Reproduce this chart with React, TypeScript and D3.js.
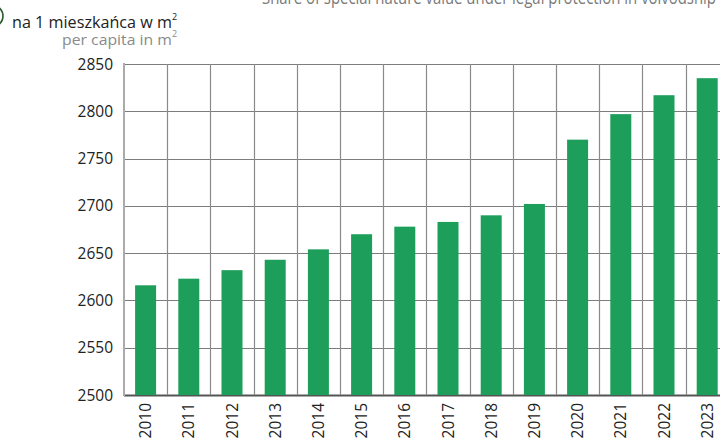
import { useEffect, useRef } from 'react';
import * as d3 from 'd3';

const years = ['2010', '2011', '2012', '2013', '2014', '2015', '2016', '2017', '2018', '2019', '2020', '2021', '2022', '2023'];
const perCapita = [2616, 2623, 2632, 2643, 2654, 2670, 2678, 2683, 2690, 2702, 2770, 2797, 2817, 2835];
const yTicks = [2500, 2550, 2600, 2650, 2700, 2750, 2800, 2850];

const W = 720;
const H = 442;
const FONT = 'Open Sans, Noto Sans, sans-serif';

export default function App() {
  const ref = useRef<SVGSVGElement>(null);

  useEffect(() => {
    document.body.style.margin = '0';
    const svg = d3.select(ref.current);
    svg.selectAll('*').remove();

    const left = 124;
    const top = 64;
    const bottom = 395;
    const step = 43.2;

    const x = d3.scaleBand<string>()
      .domain(years)
      .range([left, left + step * years.length])
      .paddingInner(0)
      .paddingOuter(0);
    const y = d3.scaleLinear().domain([2500, 2850]).range([bottom, top]);
    const barW = 21;

    // title, cut off by the top edge like in the source
    svg.append('text')
      .attr('x', 262).attr('y', 4)
      .attr('fill', '#7a7a7a')
      .attr('font-size', 19)
      .attr('font-family', FONT)
      .attr('textLength', 454)
      .attr('lengthAdjust', 'spacingAndGlyphs')
      .text('Share of special nature value under legal protection  in voivodship');

    // partial circle icon at the left edge
    svg.append('circle')
      .attr('cx', -8).attr('cy', 16).attr('r', 11)
      .attr('fill', 'none')
      .attr('stroke', '#2d5a2d')
      .attr('stroke-width', 1.6);

    // unit labels
    const u1 = svg.append('text')
      .attr('x', 12).attr('y', 28)
      .attr('fill', '#222')
      .attr('font-size', 15.5)
      .attr('font-family', FONT);
    u1.append('tspan')
      .attr('textLength', 160)
      .attr('lengthAdjust', 'spacingAndGlyphs')
      .text('na 1 mieszkańca w m');
    u1.append('tspan').attr('font-size', 9).attr('dy', -8).text('2');

    const u2 = svg.append('text')
      .attr('x', 62).attr('y', 45)
      .attr('fill', '#8a8a8a')
      .attr('font-size', 14.5)
      .attr('font-family', FONT);
    u2.append('tspan')
      .attr('textLength', 110)
      .attr('lengthAdjust', 'spacingAndGlyphs')
      .text('per capita in m');
    u2.append('tspan').attr('font-size', 9).attr('dy', -8).text('2');

    // horizontal gridlines
    svg.append('g')
      .selectAll('line')
      .data(yTicks)
      .join('line')
      .attr('x1', left).attr('x2', W)
      .attr('y1', d => Math.round(y(d)) + 0.5)
      .attr('y2', d => Math.round(y(d)) + 0.5)
      .attr('stroke', d => (d === 2500 ? '#555' : '#7d7d7d'))
      .attr('stroke-width', d => (d === 2500 ? 2 : 1.2));

    // vertical gridlines between years
    svg.append('g')
      .selectAll('line')
      .data(years.slice(1))
      .join('line')
      .attr('x1', d => Math.round(x(d)!) + 0.5)
      .attr('x2', d => Math.round(x(d)!) + 0.5)
      .attr('y1', top).attr('y2', bottom)
      .attr('stroke', '#8a8a8a')
      .attr('stroke-width', 1.2);

    // left axis line
    svg.append('line')
      .attr('x1', left).attr('x2', left)
      .attr('y1', top - 1).attr('y2', bottom + 1)
      .attr('stroke', '#ababab')
      .attr('stroke-width', 2);

    // bars
    svg.append('g')
      .selectAll('rect')
      .data(perCapita)
      .join('rect')
      .attr('x', (_, i) => x(years[i])! + x.bandwidth() / 2 - barW / 2)
      .attr('y', d => y(d))
      .attr('width', barW)
      .attr('height', d => bottom - y(d))
      .attr('fill', '#1d9e5b');

    // y tick labels
    svg.append('g')
      .selectAll('text')
      .data(yTicks)
      .join('text')
      .attr('x', 113)
      .attr('y', d => y(d))
      .attr('dy', '0.36em')
      .attr('text-anchor', 'end')
      .attr('fill', '#222')
      .attr('font-size', 15.5)
      .attr('font-family', FONT)
      .text(d => d);

    // x labels, rotated
    svg.append('g')
      .selectAll('text')
      .data(years)
      .join('text')
      .attr('transform', d => `translate(${x(d)! + x.bandwidth() / 2},403) rotate(-90)`)
      .attr('dy', '0.36em')
      .attr('text-anchor', 'end')
      .attr('fill', '#222')
      .attr('font-size', 15.5)
      .attr('font-family', FONT)
      .text(d => d);
  }, []);

  return <svg ref={ref} width={W} height={H} style={{ display: 'block' }} />;
}
